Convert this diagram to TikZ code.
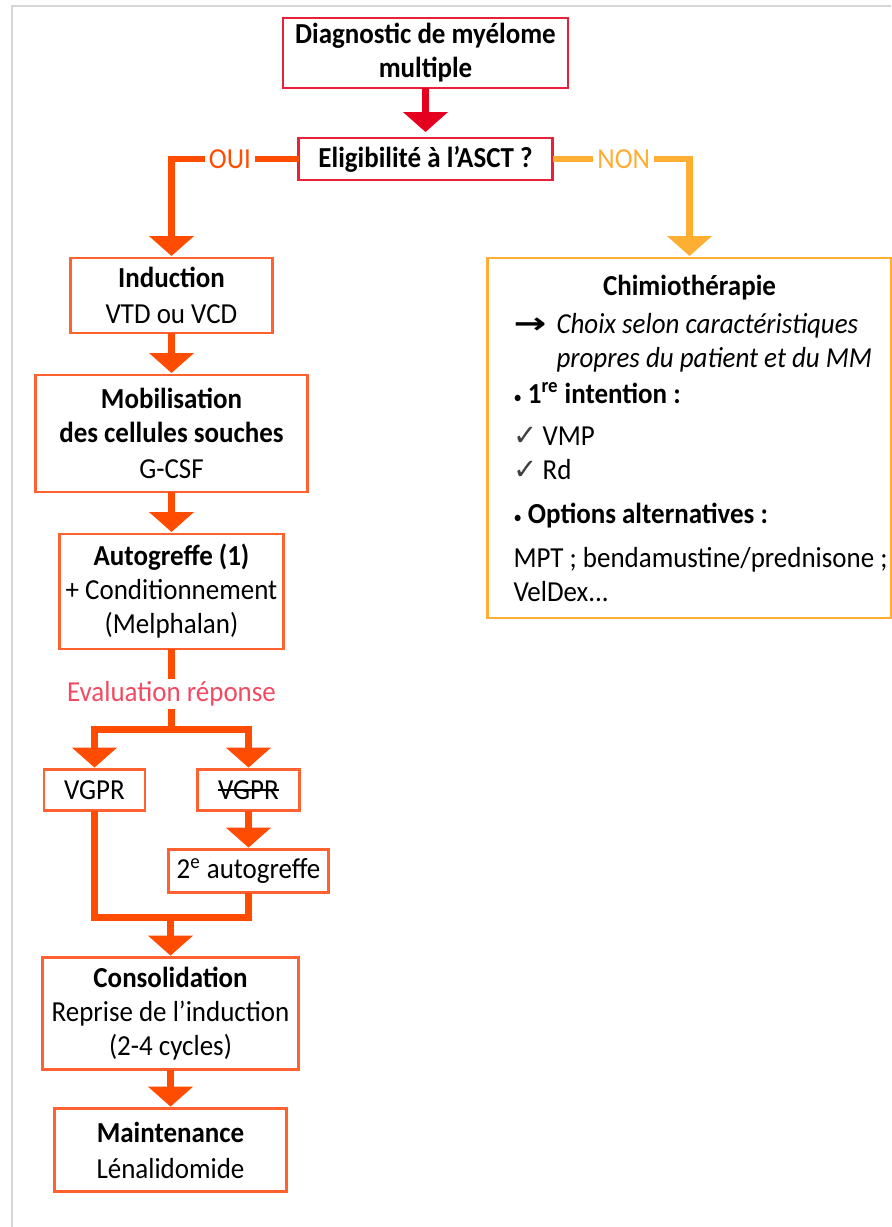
\documentclass[tikz,border=0pt]{standalone}
\usepackage{fontspec}
\setmainfont{Carlito}[FakeStretch=0.93]
\newfontfamily\symfont{DejaVu Sans}
\usetikzlibrary{positioning, arrows.meta}

\definecolor{crim}{RGB}{232,32,58}
\definecolor{crimarrow}{RGB}{228,0,30}
\definecolor{oran}{RGB}{255,76,0}
\definecolor{oranbox}{RGB}{255,98,48}
\definecolor{amber}{RGB}{255,174,52}
\definecolor{evalpink}{RGB}{242,74,98}
\definecolor{framegray}{RGB}{214,214,214}
\newcommand\fs{\fontsize{14.5}{17}\selectfont}
\newsavebox\strikebox
\newcommand\strikeout[1]{\sbox\strikebox{#1}\usebox\strikebox\hspace{-\wd\strikebox}\rule[0.3em]{\wd\strikebox}{0.7pt}}

\begin{document}
\begin{tikzpicture}[
    font=\fs,
    redbox/.style={rectangle, draw=crim, line width=1.3pt, fill=white, align=center, inner sep=1.5pt, outer sep=0pt, font=\fs\bfseries},
    stepbox/.style={rectangle, draw=oranbox, line width=1.3pt, fill=white, align=center, inner sep=1.5pt, outer sep=0pt},
    chimbox/.style={rectangle, draw=amber, line width=1.3pt, fill=white, text width=176pt, align=flush left, inner xsep=13pt, inner ysep=6pt, outer sep=0pt, minimum height=180pt},
    arrow/.style={line width=3.2pt, -{Triangle[width=22pt,length=10pt]}, shorten >=1pt},
    link/.style={line width=3.2pt},
    answer/.style={fill=white, inner sep=2pt},
]
\useasboundingbox (0,0) rectangle (445.5pt,-613.5pt);
\draw[framegray, line width=1pt] (6pt,-613.5pt) -- (6pt,-3pt) -- (445.5pt,-3pt);

% Diagnostic
\node[redbox, minimum width=142.5pt, minimum height=35pt] (diag) at (212.75pt,-26.5pt) {Diagnostic de myélome\\multiple};
\node[redbox, minimum width=127pt, minimum height=21pt, below=25pt of diag] (elig) {Eligibilité à l'ASCT ?};

% Branche OUI
\node[stepbox, minimum width=101pt, minimum height=37.5pt, below=39pt of elig, xshift=-127pt] (induction) {\textbf{Induction}\\[1pt]VTD ou VCD};
\node[stepbox, minimum width=136pt, minimum height=58.5pt, below=21pt of induction] (mobil) {\textbf{Mobilisation}\\\textbf{des cellules souches}\\[1pt]G-CSF};
\node[stepbox, minimum width=112pt, minimum height=57.5pt, below=21pt of mobil] (autog) {\textbf{Autogreffe (1)}\\+ Conditionnement\\(Melphalan)};
\node[text=evalpink, inner sep=1pt, below=15pt of autog] (eval) {Evaluation réponse};
\coordinate[below=10.5pt of eval] (split);
\node[stepbox, minimum width=50.5pt, minimum height=20.5pt, below=20pt of split, xshift=-38.5pt] (vgprA) {VGPR};
\node[stepbox, minimum width=51pt, minimum height=20.5pt, below=20pt of split, xshift=38.5pt] (vgprB) {\strikeout{VGPR}};
\node[stepbox, minimum width=80pt, minimum height=21.5pt, below=19.5pt of vgprB] (autogB) {2\textsuperscript{e} autogreffe};
\node[stepbox, minimum width=128pt, minimum height=56pt, below=32.5pt of autogB, xshift=-39pt] (consol) {\textbf{Consolidation}\\Reprise de l'induction\\(2-4 cycles)};
\coordinate[above=20pt of consol] (merge);
\node[stepbox, minimum width=116pt, minimum height=41.5pt, below=19.5pt of consol] (maint) {\textbf{Maintenance}\\[1pt]Lénalidomide};

% Branche NON
\node[chimbox, below=39pt of elig, xshift=132pt] (chimio) {{\centering\textbf{Chimiothérapie}\par}\vspace{2pt}
\makebox[21.5pt][l]{\scalebox{1.35}[1]{\symfont\bfseries →}}\mbox{\textit{Choix selon caractéristiques}}\\
\hspace*{21.5pt}\mbox{\textit{propres du patient et du MM}}\\[1pt]
{\small•} \textbf{1\textsuperscript{re} intention :}\\[4pt]
{\symfont\color{darkgray}✓}\,VMP\\
{\symfont\color{darkgray}✓}\,Rd\\[5pt]
{\small•} \textbf{Options alternatives :}\\[5pt]
\mbox{MPT ; bendamustine/prednisone ;}\\
VelDex...};

% Fleches
\draw[arrow, crimarrow, shorten >=3pt] (diag) -- (elig);
\draw[arrow, oran] (elig.west) -| node[answer, pos=0.27]{OUI} (induction.north);
\draw[arrow, amber] (elig.east) -| node[answer, pos=0.26]{NON} (chimio.north);
\draw[arrow, oran] (induction) -- (mobil);
\draw[arrow, oran] (mobil) -- (autog);
\draw[link, oran] (autog) -- (eval);
\draw[link, oran] (eval) -- (split);
\draw[arrow, oran] (split) -| (vgprA);
\draw[arrow, oran] (split) -| (vgprB);
\draw[arrow, oran] (vgprB) -- (autogB);
\draw[link, oran] (vgprA) |- (merge);
\draw[link, oran] (autogB) |- (merge);
\draw[arrow, oran] (merge) -- (consol);
\draw[arrow, oran] (consol) -- (maint);

\end{tikzpicture}
\end{document}
